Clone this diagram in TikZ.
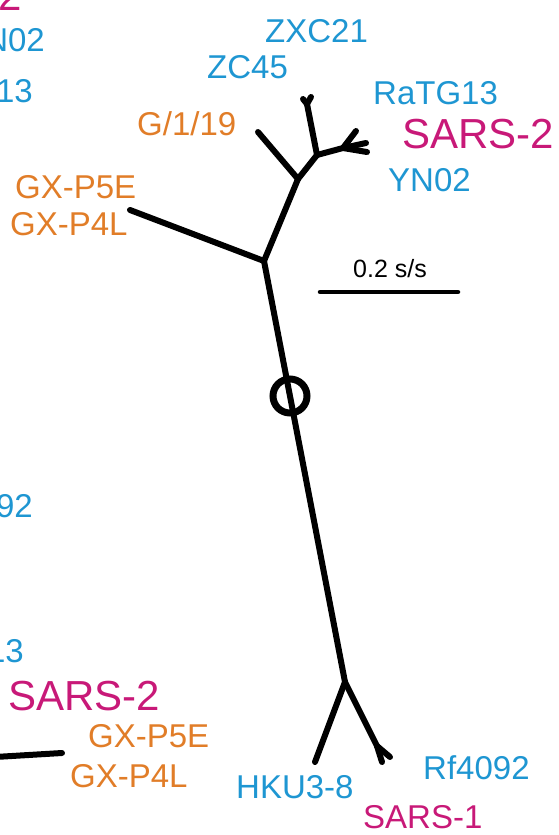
\documentclass[tikz,border=0pt]{standalone}
\usepackage{fontspec}
\setmainfont{Liberation Sans}
\definecolor{taxblue}{RGB}{30,150,210}
\definecolor{taxorange}{RGB}{225,125,40}
\definecolor{taxmagenta}{RGB}{200,25,120}
\begin{document}
\begin{tikzpicture}[x=1bp,y=-1bp,
  branch/.style={line width=6bp, line cap=round, line join=round},
  lab/.style={inner sep=0pt, anchor=base west, font=\fontsize{33bp}{36bp}\selectfont},
  bat/.style={lab, text=taxblue},
  pang/.style={lab, text=taxorange},
  human/.style={lab, text=taxmagenta, font=\fontsize{42bp}{46bp}\selectfont},
  scalelab/.style={inner sep=0pt, anchor=base west, font=\fontsize{25bp}{28bp}\selectfont}
]
\useasboundingbox (0,0) rectangle (559,835);
\clip (0,0) rectangle (559,835);

% neighbouring panel, cut at the left edge
\node[human, anchor=base east] (nSARS2a) at (22,10) {SARS-2};
\node[bat, anchor=base east] (nYN02) at (45,51) {YN02};
\node[bat, anchor=base east] (nRaTG13a) at (33,102) {RaTG13};
\node[bat, anchor=base east] (nRf4092) at (33,517) {Rf4092};
\node[bat, anchor=base east] (nRaTG13b) at (24,662) {RaTG13};
\node[human] (nSARS2b) at (8,710) {SARS-2};
\node[pang] (nP5E) at (88,747) {GX-P5E};
\node[pang] (nP4L) at (70,787) {GX-P4L};
\coordinate (nEdge) at (-5,757);
\coordinate (nTip) at (62,753);
\draw[branch] (nEdge) -- (nTip);

% tree nodes
\coordinate (A) at (264,261);
\coordinate (B) at (345,682);
\coordinate (C) at (298,179);
\coordinate (D) at (317,155);
\coordinate (E) at (343,148);
\coordinate (Z) at (307,104);
\coordinate (F) at (377,746);
% tips
\coordinate (tGX) at (130,210);
\coordinate (tG119) at (258,132);
\coordinate (tZC45) at (303,99);
\coordinate (tZXC21) at (311,97);
\coordinate (tRaTG) at (356,131);
\coordinate (tSARS2) at (366,143);
\coordinate (tYN02) at (367,152);
\coordinate (tHKU) at (315,762);
\coordinate (tSARS1) at (382,762);
\coordinate (tRf) at (390,757);

\draw[branch] (A) -- (B);
\draw[branch] (A) -- (tGX);
\draw[branch] (A) -- (C);
\draw[branch] (C) -- (tG119);
\draw[branch] (C) -- (D);
\draw[branch] (D) -- (Z);
\draw[branch] (Z) -- (tZC45);
\draw[branch] (Z) -- (tZXC21);
\draw[branch] (D) -- (E);
\draw[branch] (E) -- (tRaTG);
\draw[branch] (E) -- (tSARS2);
\draw[branch] (E) -- (tYN02);
\draw[branch] (B) -- (tHKU);
\draw[branch] (B) -- (F);
\draw[branch] (F) -- (tSARS1);
\draw[branch] (F) -- (tRf);

% root marker
\node[draw, circle, line width=7bp, minimum size=34bp, inner sep=0pt] (root) at (290,396) {};

% labels
\node[bat] (ZXC21) at (265,42) {ZXC21};
\node[bat] (ZC45) at (207,78) {ZC45};
\node[bat] (RaTG13) at (373,104) {RaTG13};
\node[human] (SARS2) at (402,148) {SARS-2};
\node[bat] (YN02) at (388,191) {YN02};
\node[pang] (G119) at (137,135) {G/1/19};
\node[pang] (GXP5E) at (15,198) {GX-P5E};
\node[pang] (GXP4L) at (10,235) {GX-P4L};
\node[bat] (HKU) at (236,798) {HKU3-8};
\node[bat] (Rf4092) at (423,779) {Rf4092};
\node[lab, text=taxmagenta] (SARS1) at (363,828) {SARS-1};

% scale bar
\coordinate (sbL) at (320,292);
\coordinate (sbR) at (458,292);
\draw[line width=4.5bp, line cap=round] (sbL) -- (sbR);
\node[scalelab] (sbText) at (353,277) {0.2 s/s};
\end{tikzpicture}
\end{document}
